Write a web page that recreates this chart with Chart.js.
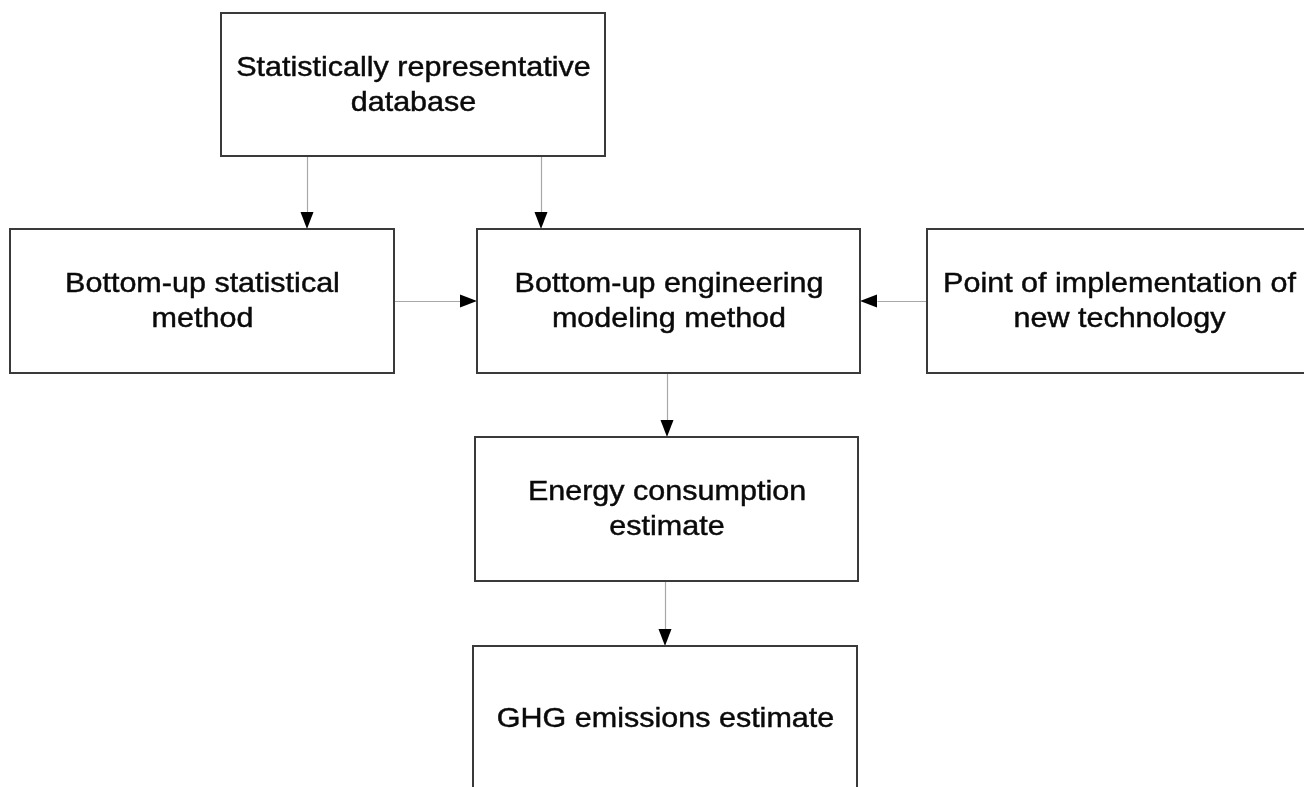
<!DOCTYPE html>
<html>
<head>
<meta charset="utf-8">
<script src="https://cdn.jsdelivr.net/npm/chart.js@4.4.1/dist/chart.umd.min.js"></script>
<style>
  html, body { margin: 0; padding: 0; background: #ffffff; overflow: hidden; }
  #wrap { width: 1304px; height: 787px; }
</style>
</head>
<body>
<div id="wrap"><canvas id="c" width="1304" height="787"></canvas></div>
<script>
// ---- Diagram data (diagram units; x to the right, y downwards) ----
const nodeLabels = [
  ["Statistically representative", "database"],
  ["Bottom-up statistical", "method"],
  ["Bottom-up engineering", "modeling method"],
  ["Point of implementation of", "new technology"],
  ["Energy consumption", "estimate"],
  ["GHG emissions estimate"]
];
const nodeLeft   = [221, 10, 477, 927, 475, 473];
const nodeTop    = [13, 229, 229, 229, 437, 646];
const nodeRight  = [605, 394, 860, 1311, 858, 857];
const nodeBottom = [156, 373, 373, 373, 581, 790];

// edges: start and end points (arrow head at end)
const edgeStartX = [307, 541, 394, 927, 667, 665];
const edgeStartY = [156, 156, 301, 301, 373, 581];
const edgeEndX   = [307, 541, 477, 860, 667, 665];
const edgeEndY   = [229, 229, 301, 301, 437, 646];

const FONT_SIZE = 28;
const LINE_GAP = 35;
const TEXT_STRETCH = 1.09;

const flowPlugin = {
  id: 'flow',
  afterDatasetsDraw(chart) {
    const ctx = chart.ctx;
    const xs = chart.scales.x, ys = chart.scales.y;
    const px = v => xs.getPixelForValue(v);
    const py = v => ys.getPixelForValue(v);
    ctx.save();
    // edges
    for (let i = 0; i < edgeStartX.length; i++) {
      const x1 = px(edgeStartX[i]), y1 = py(edgeStartY[i]);
      const x2 = px(edgeEndX[i]), y2 = py(edgeEndY[i]);
      const ang = Math.atan2(y2 - y1, x2 - x1);
      const headL = 17, headW = 6.5;
      const bx = x2 - Math.cos(ang) * headL, by = y2 - Math.sin(ang) * headL;
      ctx.strokeStyle = '#a8a8a8';
      ctx.lineWidth = 1.2;
      ctx.beginPath();
      ctx.moveTo(Math.round(x1) + 0.5, Math.round(y1) + 0.5);
      ctx.lineTo(Math.round(bx) + 0.5, Math.round(by) + 0.5);
      ctx.stroke();
      ctx.fillStyle = '#000000';
      ctx.beginPath();
      ctx.moveTo(x2, y2);
      ctx.lineTo(bx - Math.sin(ang) * headW, by + Math.cos(ang) * headW);
      ctx.lineTo(bx + Math.sin(ang) * headW, by - Math.cos(ang) * headW);
      ctx.closePath();
      ctx.fill();
    }
    // nodes
    for (let i = 0; i < nodeLabels.length; i++) {
      const l = px(nodeLeft[i]), t = py(nodeTop[i]);
      const r = px(nodeRight[i]), b = py(nodeBottom[i]);
      ctx.fillStyle = '#ffffff';
      ctx.fillRect(l, t, r - l, b - t);
      ctx.strokeStyle = '#3a3a3a';
      ctx.lineWidth = 2;
      ctx.strokeRect(l, t, r - l, b - t);
      const lines = nodeLabels[i];
      const cx = (l + r) / 2 + 0.5;
      const cy = (t + b) / 2;
      const n = lines.length;
      const firstBase = cy - (n - 1) * LINE_GAP / 2 + FONT_SIZE * 0.32;
      ctx.save();
      ctx.translate(cx, 0);
      ctx.scale(TEXT_STRETCH, 1);
      ctx.fillStyle = '#0a0a0a';
      ctx.strokeStyle = '#0a0a0a';
      ctx.lineWidth = 0.45;
      ctx.font = FONT_SIZE + 'px "Liberation Sans", Arial, sans-serif';
      ctx.textAlign = 'center';
      ctx.textBaseline = 'alphabetic';
      lines.forEach((s, k) => {
        ctx.fillText(s, 0, firstBase + k * LINE_GAP);
        ctx.strokeText(s, 0, firstBase + k * LINE_GAP);
      });
      ctx.restore();
    }
    ctx.restore();
  }
};

new Chart(document.getElementById('c'), {
  type: 'scatter',
  data: { datasets: [{ data: [], showLine: false, pointRadius: 0 }] },
  options: {
    responsive: false,
    animation: false,
    events: [],
    layout: { padding: 0 },
    plugins: { legend: { display: false }, tooltip: { enabled: false }, title: { display: false } },
    scales: {
      x: { type: 'linear', min: 0, max: 1304, display: false },
      y: { type: 'linear', min: 0, max: 787, reverse: true, display: false }
    }
  },
  plugins: [flowPlugin]
});
</script>
</body>
</html>
